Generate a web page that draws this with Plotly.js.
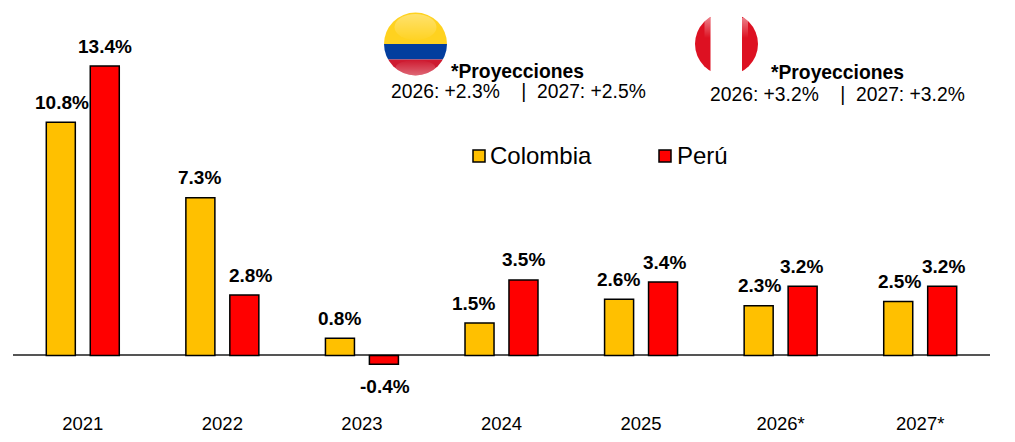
<!DOCTYPE html>
<html>
<head>
<meta charset="utf-8">
<script src="https://cdn.plot.ly/plotly-3.0.1.min.js"></script>
<style>html,body{margin:0;padding:0;background:#fff}#chart{width:1015px;height:442px}</style>
</head>
<body>
<div id="chart"></div>
<script>
const categories = ["2021","2022","2023","2024","2025","2026*","2027*"];
const colombia = [10.8,7.3,0.8,1.5,2.6,2.3,2.5];
const peru = [13.4,2.8,-0.4,3.5,3.4,3.2,3.2];
const colombiaLabelNudge = [1,-1,0,-6,-1,1,1];
const peruLabelNudge = [0,6,1,0,1,-1,1];
const FONT = '"Liberation Sans", Arial, sans-serif';
const W = 1015, H = 442;
const M = {l:13, r:25, t:10, b:40};
const px = x => (x - M.l) / (W - M.l - M.r);
const py = y => 1 - (y - M.t) / (H - M.t - M.b);

const colFlag = `<svg xmlns="http://www.w3.org/2000/svg" width="64" height="64" viewBox="0 0 64 64">
<defs><clipPath id="c"><circle cx="32" cy="32" r="31.5"/></clipPath>
<linearGradient id="g" x1="0" y1="0" x2="0" y2="1"><stop offset="0" stop-color="#fff" stop-opacity=".35"/><stop offset="1" stop-color="#fff" stop-opacity=".02"/></linearGradient>
<linearGradient id="b" x1="0" y1="0" x2="0" y2="1"><stop offset="0" stop-color="#fff" stop-opacity="0"/><stop offset="1" stop-color="#fff" stop-opacity=".35"/></linearGradient></defs>
<g clip-path="url(#c)"><rect width="64" height="32" fill="#FFD21F"/><rect y="32" width="64" height="15.5" fill="#033E9E"/><rect y="47.5" width="64" height="16.5" fill="#CE1A30"/>
<ellipse cx="32" cy="15" rx="21" ry="13" fill="url(#g)"/><ellipse cx="32" cy="56" rx="20" ry="8" fill="url(#b)"/></g></svg>`;
const perFlag = `<svg xmlns="http://www.w3.org/2000/svg" width="64" height="64" viewBox="0 0 64 64">
<defs><clipPath id="c"><circle cx="32" cy="32" r="31.5"/></clipPath>
<linearGradient id="g" x1="0" y1="0" x2="0" y2="1"><stop offset="0" stop-color="#fff" stop-opacity=".45"/><stop offset="1" stop-color="#fff" stop-opacity="0"/></linearGradient></defs>
<g clip-path="url(#c)"><rect x="0" width="16" height="64" fill="#DD1122"/><rect x="47.5" width="16.5" height="64" fill="#DD1122"/>
<rect x="10" y="6" width="6" height="20" fill="url(#g)"/><rect x="47.5" y="6" width="6" height="20" fill="url(#g)"/></g></svg>`;
const uri = s => 'data:image/svg+xml;charset=utf-8,' + encodeURIComponent(s);
const flag = (s,x,y) => ({source:uri(s), xref:'paper', yref:'paper', x:px(x), y:py(y),
  sizex:64/(W-M.l-M.r), sizey:64/(H-M.t-M.b), xanchor:'left', yanchor:'top', sizing:'stretch', layer:'above'});

const note = (text,x,y,size,bold) => ({xref:'paper',yref:'paper',x:px(x),y:py(y),xanchor:'center',yanchor:'middle',
  showarrow:false,text:bold?'<b>'+text+'</b>':text,font:{family:FONT,size:size,color:'#000'}});

const barLabels = (vals,idx,nudge) => vals.map((v,i)=>({
  x:i, y:v, xref:'x', yref:'y', showarrow:false,
  xshift:(idx===0?-22:22)+nudge[i], yshift:v<0?-22:20, xanchor:'center', yanchor:'middle',
  text:'<b>'+v.toFixed(1)+'%</b>', font:{family:FONT,size:19,color:'#000'}
}));

const bar = (name,y,color) => ({type:'bar',name,x:categories,y,marker:{color,line:{color:'#000',width:1.5}},hoverinfo:'x+y',cliponaxis:false});

const swatch = (x,color) => ({type:'rect',xref:'paper',yref:'paper',x0:px(x),x1:px(x+12),y0:py(162),y1:py(150),
  fillcolor:color,line:{color:'#000',width:1.5},layer:'above'});

Plotly.newPlot('chart',[bar('Colombia',colombia,'#FFC000'),bar('Perú',peru,'#FF0000')],{
  width:W,height:H,margin:M,paper_bgcolor:'#fff',plot_bgcolor:'#fff',
  barmode:'group',bargap:0.37,bargroupgap:0.34,showlegend:false,
  font:{family:FONT,color:'#000'},
  xaxis:{type:'category',categoryorder:'array',categoryarray:categories,range:[-0.5,6.5],autorange:false,showgrid:false,showline:false,zeroline:false,ticks:'outside',ticklen:5,tickcolor:'rgba(0,0,0,0)',tickfont:{family:FONT,size:18.5,color:'#000'},fixedrange:true},
  yaxis:{range:[-2.153,15.995],autorange:false,visible:true,showticklabels:false,showgrid:false,ticks:'',showline:false,zeroline:true,zerolinecolor:'#555',zerolinewidth:2,fixedrange:true},
  images:[flag(colFlag,383.5,12),flag(perFlag,694.5,12)],
  shapes:[swatch(473,'#FFC000'),swatch(659,'#FF0000')],
  annotations:[
    ...barLabels(colombia,0,colombiaLabelNudge),
    ...barLabels(peru,1,peruLabelNudge),
    note('*Proyecciones',517.5,71,19.3,true),
    note('2026: +2.3%&nbsp;&nbsp;&nbsp;&nbsp;|&nbsp;&nbsp;2027: +2.5%',518,92,19.3,false),
    note('*Proyecciones',837,72,19.3,true),
    note('2026: +3.2%&nbsp;&nbsp;&nbsp;&nbsp;|&nbsp;&nbsp;2027: +3.2%',837,94,19.3,false),
    note('Colombia',541,155,24,false),
    note('Perú',702,155,24,false)
  ]
},{displayModeBar:false,staticPlot:true});
</script>
</body>
</html>
